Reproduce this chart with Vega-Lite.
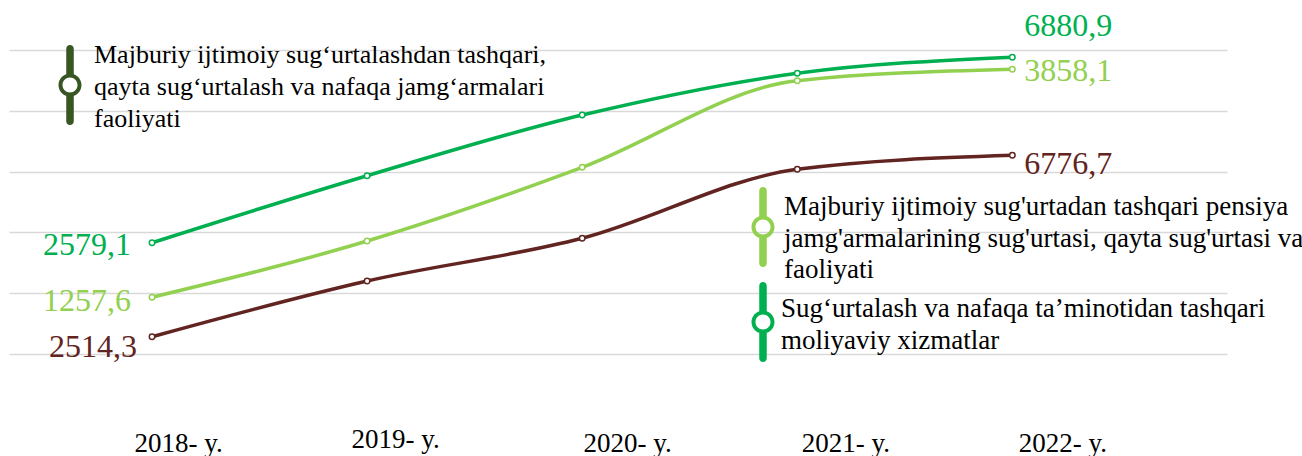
{
  "$schema": "https://vega.github.io/schema/vega-lite/v6.json",
  "width": 1218,
  "height": 354,
  "autosize": {"type": "none"},
  "padding": {"left": 9, "top": 0, "right": 75, "bottom": 102},
  "background": "white",
  "config": {
    "view": {"stroke": null},
    "font": "Liberation Serif",
    "locale": {"number": {"decimal": ",", "thousands": " ", "grouping": [3], "currency": ["", ""]}}
  },
  "datasets": {
    "nafaqa": [
      {"series": "Majburiy ijtimoiy sug‘urtalashdan tashqari,\nqayta sug‘urtalash va nafaqa jamg‘armalari\nfaoliyati", "year": 2018, "value": 2514.3},
      {"series": "Majburiy ijtimoiy sug‘urtalashdan tashqari,\nqayta sug‘urtalash va nafaqa jamg‘armalari\nfaoliyati", "year": 2019, "value": 3823},
      {"series": "Majburiy ijtimoiy sug‘urtalashdan tashqari,\nqayta sug‘urtalash va nafaqa jamg‘armalari\nfaoliyati", "year": 2020, "value": 4826},
      {"series": "Majburiy ijtimoiy sug‘urtalashdan tashqari,\nqayta sug‘urtalash va nafaqa jamg‘armalari\nfaoliyati", "year": 2021, "value": 6448},
      {"series": "Majburiy ijtimoiy sug‘urtalashdan tashqari,\nqayta sug‘urtalash va nafaqa jamg‘armalari\nfaoliyati", "year": 2022, "value": 6776.7}
    ],
    "pensiya": [
      {"series": "Majburiy ijtimoiy sug'urtadan tashqari pensiya\njamg'armalarining sug'urtasi, qayta sug'urtasi va\nfaoliyati", "year": 2018, "value": 1257.6},
      {"series": "Majburiy ijtimoiy sug'urtadan tashqari pensiya\njamg'armalarining sug'urtasi, qayta sug'urtasi va\nfaoliyati", "year": 2019, "value": 1900},
      {"series": "Majburiy ijtimoiy sug'urtadan tashqari pensiya\njamg'armalarining sug'urtasi, qayta sug'urtasi va\nfaoliyati", "year": 2020, "value": 2740},
      {"series": "Majburiy ijtimoiy sug'urtadan tashqari pensiya\njamg'armalarining sug'urtasi, qayta sug'urtasi va\nfaoliyati", "year": 2021, "value": 3728},
      {"series": "Majburiy ijtimoiy sug'urtadan tashqari pensiya\njamg'armalarining sug'urtasi, qayta sug'urtasi va\nfaoliyati", "year": 2022, "value": 3858.1}
    ],
    "moliyaviy": [
      {"series": "Sug‘urtalash va nafaqa ta’minotidan tashqari\nmoliyaviy xizmatlar", "year": 2018, "value": 2579.1},
      {"series": "Sug‘urtalash va nafaqa ta’minotidan tashqari\nmoliyaviy xizmatlar", "year": 2019, "value": 4133},
      {"series": "Sug‘urtalash va nafaqa ta’minotidan tashqari\nmoliyaviy xizmatlar", "year": 2020, "value": 5540},
      {"series": "Sug‘urtalash va nafaqa ta’minotidan tashqari\nmoliyaviy xizmatlar", "year": 2021, "value": 6507},
      {"series": "Sug‘urtalash va nafaqa ta’minotidan tashqari\nmoliyaviy xizmatlar", "year": 2022, "value": 6880.9}
    ]
  },
  "encoding": {
    "x": {
      "field": "year",
      "type": "quantitative",
      "scale": {"domain": [2017.335, 2022.998], "nice": false, "zero": false},
      "axis": {
        "title": null,
        "values": [2018, 2019, 2020, 2021, 2022],
        "labelExpr": "datum.value + '- y.'",
        "grid": false,
        "ticks": false,
        "tickSize": 0,
        "domain": false,
        "labelFont": "Liberation Serif",
        "labelFontSize": 27,
        "labelColor": "#000000",
        "labelBaseline": "alphabetic",
        "labelAlign": "center",
        "labelFlush": false,
        "labelOverlap": false,
        "labelPadding": {"condition": {"test": "datum.value == 2019", "value": 93}, "value": 97},
        "labelOffset": {"condition": [
          {"test": "datum.value == 2018", "value": 26},
          {"test": "datum.value == 2019", "value": 28},
          {"test": "datum.value == 2020", "value": 45},
          {"test": "datum.value == 2021", "value": 48}
        ], "value": 50}
      }
    }
  },
  "layer": [
    {
      "data": {"name": "nafaqa"},
      "encoding": {
        "y": {"field": "value", "type": "quantitative", "scale": {"domain": [2107.7, 10425.6], "nice": false, "zero": false}, "axis": null}
      },
      "layer": [
        {
          "mark": {"type": "line", "strokeWidth": 3.5, "interpolate": "monotone"},
          "encoding": {
            "color": {
              "field": "series", "type": "nominal",
              "scale": {"range": ["#612420"]},
              "legend": {
                "orient": "none", "legendX": 21, "legendY": 45, "title": null, "padding": 0,
                "symbolType": "M-0.094,-0.906A0.094,0.094,0,0,1,0.094,-0.906L0.094,-0.2717A0.2875,0.2875,0,0,1,0.094,0.2717L0.094,0.906A0.094,0.094,0,0,1,-0.094,0.906L-0.094,0.2717A0.2875,0.2875,0,0,1,-0.094,-0.2717ZM0.1875,0A0.1875,0.1875,0,1,0,-0.1875,0A0.1875,0.1875,0,1,0,0.1875,0Z",
                "symbolSize": 6400, "symbolStrokeWidth": 0,
                "labelFont": "Liberation Serif", "labelFontSize": 26, "labelColor": "#000000", "labelLimit": 0, "labelOffset": -16,
                "labelExpr": "split(datum.label, '\\n')",
                "encode": {
                  "symbols": {"update": {"fill": {"value": "#375623"}, "stroke": {"value": "transparent"}, "strokeWidth": {"value": 0}, "opacity": {"value": 1}}},
                  "labels": {"update": {"lineHeight": {"value": 32}, "dy": {"value": -30}}}
                }
              }
            }
          }
        },
        {"mark": {"type": "point", "filled": true, "fill": "white", "stroke": "#612420", "strokeWidth": 1.5, "size": 30, "opacity": 1}},
        {
          "transform": [{"filter": "datum.year == 2018"}],
          "mark": {"type": "text", "align": "right", "baseline": "middle", "dx": -15, "dy": 10, "fontSize": 32, "font": "Liberation Serif", "fill": "#612420"},
          "encoding": {"text": {"field": "value", "type": "quantitative", "format": ".1f"}}
        },
        {
          "transform": [{"filter": "datum.year == 2022"}],
          "mark": {"type": "text", "align": "left", "baseline": "middle", "dx": 12, "dy": 9, "fontSize": 32, "font": "Liberation Serif", "fill": "#612420"},
          "encoding": {"text": {"field": "value", "type": "quantitative", "format": ".1f"}}
        }
      ]
    },
    {
      "data": {"name": "pensiya"},
      "encoding": {
        "y": {"field": "value", "type": "quantitative", "scale": {"domain": [610.9, 4648.6], "nice": false, "zero": false}, "axis": null}
      },
      "layer": [
        {
          "mark": {"type": "line", "strokeWidth": 3.5, "interpolate": "monotone"},
          "encoding": {
            "color": {
              "field": "series", "type": "nominal",
              "scale": {"range": ["#92d050"]},
              "legend": {
                "orient": "none", "legendX": 714, "legendY": 187, "title": null, "padding": 0,
                "symbolType": "M-0.094,-0.906A0.094,0.094,0,0,1,0.094,-0.906L0.094,-0.2717A0.2875,0.2875,0,0,1,0.094,0.2717L0.094,0.906A0.094,0.094,0,0,1,-0.094,0.906L-0.094,0.2717A0.2875,0.2875,0,0,1,-0.094,-0.2717ZM0.1875,0A0.1875,0.1875,0,1,0,-0.1875,0A0.1875,0.1875,0,1,0,0.1875,0Z",
                "symbolSize": 6400, "symbolStrokeWidth": 0,
                "labelFont": "Liberation Serif", "labelFontSize": 27, "labelColor": "#000000", "labelLimit": 0, "labelOffset": -19,
                "labelExpr": "split(datum.label, '\\n')",
                "encode": {
                  "symbols": {"update": {"fill": {"value": "#92d050"}, "stroke": {"value": "transparent"}, "strokeWidth": {"value": 0}, "opacity": {"value": 1}}},
                  "labels": {"update": {"lineHeight": {"value": 31.5}, "dy": {"value": -20}}}
                }
              }
            }
          }
        },
        {"mark": {"type": "point", "filled": true, "fill": "white", "stroke": "#92d050", "strokeWidth": 1.5, "size": 30, "opacity": 1}},
        {
          "transform": [{"filter": "datum.year == 2018"}],
          "mark": {"type": "text", "align": "right", "baseline": "middle", "dx": -21, "dy": 4, "fontSize": 32, "font": "Liberation Serif", "fill": "#92d050"},
          "encoding": {"text": {"field": "value", "type": "quantitative", "format": ".1f"}}
        },
        {
          "transform": [{"filter": "datum.year == 2022"}],
          "mark": {"type": "text", "align": "left", "baseline": "middle", "dx": 12, "dy": 2, "fontSize": 32, "font": "Liberation Serif", "fill": "#92d050"},
          "encoding": {"text": {"field": "value", "type": "quantitative", "format": ".1f"}}
        }
      ]
    },
    {
      "data": {"name": "moliyaviy"},
      "encoding": {
        "y": {
          "field": "value", "type": "quantitative",
          "scale": {"domain": [0, 8205.7], "nice": false, "zero": false},
          "axis": {"title": null, "values": [0, 1409, 2818, 4227, 5636, 7045], "labels": false, "ticks": false, "domain": false, "grid": true, "gridColor": "#d9d9d9", "gridWidth": 1.5}
        }
      },
      "layer": [
        {
          "mark": {"type": "line", "strokeWidth": 3.5, "interpolate": "monotone"},
          "encoding": {
            "color": {
              "field": "series", "type": "nominal",
              "scale": {"range": ["#00b050"]},
              "legend": {
                "orient": "none", "legendX": 714, "legendY": 282, "title": null, "padding": 0,
                "symbolType": "M-0.094,-0.906A0.094,0.094,0,0,1,0.094,-0.906L0.094,-0.2717A0.2875,0.2875,0,0,1,0.094,0.2717L0.094,0.906A0.094,0.094,0,0,1,-0.094,0.906L-0.094,0.2717A0.2875,0.2875,0,0,1,-0.094,-0.2717ZM0.1875,0A0.1875,0.1875,0,1,0,-0.1875,0A0.1875,0.1875,0,1,0,0.1875,0Z",
                "symbolSize": 6400, "symbolStrokeWidth": 0,
                "labelFont": "Liberation Serif", "labelFontSize": 27, "labelColor": "#000000", "labelLimit": 0, "labelOffset": -22,
                "labelExpr": "split(datum.label, '\\n')",
                "encode": {
                  "symbols": {"update": {"fill": {"value": "#00b050"}, "stroke": {"value": "transparent"}, "strokeWidth": {"value": 0}, "opacity": {"value": 1}}},
                  "labels": {"update": {"lineHeight": {"value": 31.5}, "dy": {"value": -13}}}
                }
              }
            }
          }
        },
        {"mark": {"type": "point", "filled": true, "fill": "white", "stroke": "#00b050", "strokeWidth": 1.5, "size": 30, "opacity": 1}},
        {
          "transform": [{"filter": "datum.year == 2018"}],
          "mark": {"type": "text", "align": "right", "baseline": "middle", "dx": -21, "dy": 2, "fontSize": 32, "font": "Liberation Serif", "fill": "#00b050"},
          "encoding": {"text": {"field": "value", "type": "quantitative", "format": ".1f"}}
        },
        {
          "transform": [{"filter": "datum.year == 2022"}],
          "mark": {"type": "text", "align": "left", "baseline": "middle", "dx": 12, "dy": -31, "fontSize": 32, "font": "Liberation Serif", "fill": "#00b050"},
          "encoding": {"text": {"field": "value", "type": "quantitative", "format": ".1f"}}
        }
      ]
    }
  ],
  "resolve": {
    "scale": {"y": "independent", "color": "independent"},
    "axis": {"y": "independent"},
    "legend": {"color": "independent"}
  }
}
